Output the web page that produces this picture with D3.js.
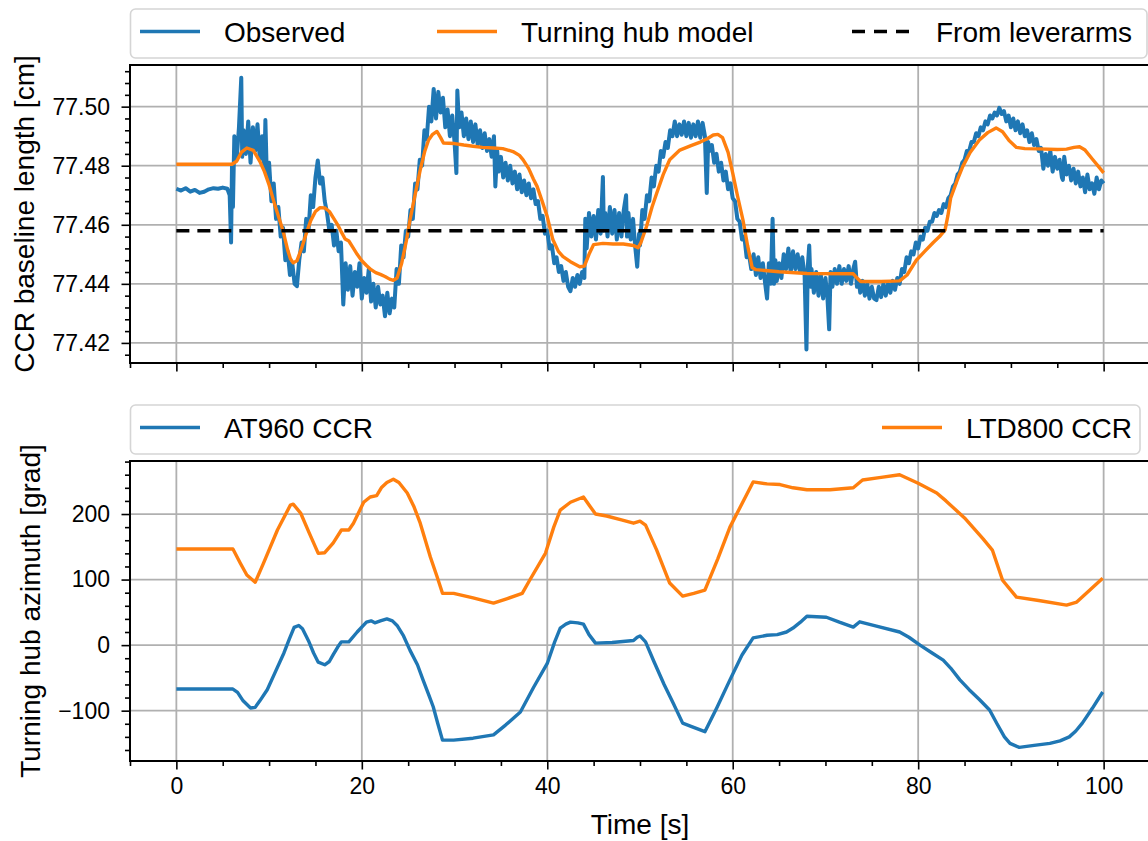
<!DOCTYPE html>
<html>
<head>
<meta charset="utf-8">
<script src="https://cdn.jsdelivr.net/npm/d3@7"></script>
<style>
body { margin: 0; background: #fff; }
svg { display: block; font-family: "Liberation Sans", Arial, Helvetica, sans-serif; }
</style>
</head>
<body>
<svg id="chart" width="1148" height="841"></svg>
<script>
var timeTicks = [0, 20, 40, 60, 80, 100];
var baselineTicks = [77.42, 77.44, 77.46, 77.48, 77.50];
var azimuthTicks = [-100, 0, 100, 200];
var topLabels = ["Observed", "Turning hub model", "From leverarms"];
var bottomLabels = ["AT960 CCR", "LTD800 CCR"];
var leverarmLength = 77.458;

// [time s, baseline cm]
var observed = [
[0,77.4722],[0.5,77.4716],[1,77.4724],[1.5,77.4712],[2,77.4718],[2.5,77.4708],[3,77.4712],[3.5,77.4720],[4,77.4724],[4.5,77.4722],[5,77.4726],[5.5,77.4722],
[5.75,77.4700],[5.9,77.4540],[6,77.4800],[6.1,77.4660],[6.25,77.4900],[6.5,77.4820],[6.75,77.4930],[7,77.5098],[7.1,77.4830],[7.25,77.4920],[7.5,77.4840],[7.75,77.4950],
[8,77.4810],[8.25,77.4930],[8.5,77.4850],[8.75,77.4940],[9,77.4820],[9.25,77.4900],[9.5,77.4790],[9.6,77.4955],[9.75,77.4770],[10,77.4810],[10.25,77.4680],[10.5,77.4740],
[10.75,77.4620],[11,77.4660],[11.25,77.4560],[11.5,77.4590],[11.75,77.4480],[12,77.4510],[12.25,77.4430],[12.5,77.4470],[12.75,77.4400],[13,77.4392],[13.25,77.4480],[13.5,77.4540],
[13.75,77.4510],[14,77.4620],[14.25,77.4580],[14.5,77.4700],[14.75,77.4660],[15,77.4760],[15.25,77.4818],[15.5,77.4740],[15.75,77.4760],[16,77.4680],[16.25,77.4640],[16.5,77.4580],
[16.75,77.4600],[17,77.4530],[17.25,77.4580],[17.5,77.4510],[17.75,77.4540],[18,77.4330],[18.25,77.4470],[18.5,77.4380],[18.75,77.4460],[19,77.4360],[19.25,77.4440],[19.5,77.4390],
[19.75,77.4470],[20,77.4350],[20.25,77.4420],[20.5,77.4370],[20.75,77.4450],[21,77.4340],[21.25,77.4400],[21.5,77.4320],[21.75,77.4390],[22,77.4330],[22.25,77.4360],[22.5,77.4290],
[22.75,77.4370],[23,77.4300],[23.25,77.4350],[23.5,77.4320],[23.75,77.4450],[24,77.4400],[24.25,77.4530],[24.5,77.4490],[24.75,77.4580],[25,77.4560],[25.25,77.4650],[25.5,77.4620],
[25.75,77.4740],[26,77.4720],[26.25,77.4820],[26.5,77.4800],[26.75,77.4920],[27,77.4890],[27.25,77.5000],[27.5,77.4950],[27.75,77.5060],[28,77.4960],[28.25,77.5050],[28.5,77.4980],
[28.75,77.5030],[29,77.4930],[29.25,77.4990],[29.5,77.4900],[29.75,77.4970],[30,77.4880],[30.2,77.4775],[30.3,77.5055],[30.5,77.4930],[30.75,77.4980],[31,77.4900],[31.25,77.4960],
[31.5,77.4890],[31.75,77.4950],[32,77.4880],[32.25,77.4940],[32.5,77.4870],[32.75,77.4920],[33,77.4860],[33.25,77.4910],[33.5,77.4850],[33.75,77.4890],[34,77.4830],[34.25,77.4900],
[34.4,77.4730],[34.6,77.4850],[34.75,77.4780],[35,77.4830],[35.25,77.4760],[35.5,77.4810],[35.75,77.4750],[36,77.4800],[36.25,77.4740],[36.5,77.4780],[36.75,77.4720],[37,77.4770],
[37.25,77.4710],[37.5,77.4750],[37.75,77.4700],[38,77.4740],[38.25,77.4690],[38.5,77.4720],[38.75,77.4670],[39,77.4680],[39.25,77.4620],[39.5,77.4630],[39.75,77.4570],[40,77.4580],
[40.25,77.4520],[40.5,77.4530],[40.75,77.4470],[41,77.4490],[41.25,77.4440],[41.5,77.4460],[41.75,77.4410],[42,77.4440],[42.25,77.4390],[42.5,77.4375],[42.75,77.4420],[43,77.4390],
[43.25,77.4430],[43.5,77.4400],[43.75,77.4440],[44,77.4420],[44.1,77.4620],[44.25,77.4520],[44.5,77.4640],[44.75,77.4560],[45,77.4630],[45.25,77.4550],[45.5,77.4650],[45.75,77.4570],
[46,77.4762],[46.1,77.4580],[46.25,77.4640],[46.5,77.4560],[46.75,77.4660],[47,77.4570],[47.25,77.4650],[47.5,77.4550],[47.75,77.4640],[48,77.4560],[48.25,77.4650],[48.5,77.4700],
[48.6,77.4560],[48.75,77.4640],[49,77.4550],[49.25,77.4620],[49.5,77.4520],[49.7,77.4458],[49.9,77.4570],[50,77.4530],[50.25,77.4650],[50.5,77.4620],[50.75,77.4700],[51,77.4680],
[51.25,77.4760],[51.5,77.4730],[51.75,77.4800],[52,77.4780],[52.25,77.4850],[52.5,77.4830],[52.75,77.4880],[53,77.4860],[53.25,77.4920],[53.5,77.4900],[53.75,77.4950],[54,77.4900],
[54.25,77.4940],[54.5,77.4905],[54.75,77.4950],[55,77.4900],[55.25,77.4945],[55.5,77.4895],[55.75,77.4940],[56,77.4900],[56.25,77.4950],[56.5,77.4895],[56.75,77.4945],[57,77.4900],
[57.2,77.4708],[57.35,77.4880],[57.5,77.4850],[57.75,77.4870],[58,77.4810],[58.25,77.4840],[58.5,77.4780],[58.75,77.4810],[59,77.4750],[59.25,77.4780],[59.5,77.4720],[59.75,77.4740],
[60,77.4690],[60.25,77.4680],[60.5,77.4620],[60.75,77.4610],[61,77.4550],[61.25,77.4560],[61.5,77.4490],[61.75,77.4500],[62,77.4450],[62.25,77.4500],[62.5,77.4430],[62.75,77.4490],
[63,77.4420],[63.25,77.4470],[63.5,77.4400],[63.7,77.4350],[63.9,77.4470],[64.1,77.4400],[64.3,77.4620],[64.45,77.4400],[64.6,77.4480],[64.75,77.4410],[65,77.4470],[65.25,77.4420],
[65.5,77.4500],[65.75,77.4450],[66,77.4520],[66.25,77.4440],[66.5,77.4510],[66.75,77.4450],[67,77.4500],[67.25,77.4440],[67.5,77.4490],[67.75,77.4430],[67.95,77.4178],[68.1,77.4460],
[68.25,77.4530],[68.4,77.4390],[68.5,77.4450],[68.75,77.4370],[69,77.4440],[69.25,77.4360],[69.5,77.4430],[69.75,77.4350],[70,77.4420],[70.2,77.4360],[70.4,77.4246],[70.55,77.4440],
[70.75,77.4390],[71,77.4450],[71.25,77.4400],[71.5,77.4460],[71.75,77.4400],[72,77.4450],[72.25,77.4410],[72.5,77.4460],[72.75,77.4400],[73,77.4450],[73.2,77.4475],[73.4,77.4390],
[73.6,77.4410],[73.75,77.4370],[74,77.4410],[74.25,77.4360],[74.5,77.4400],[74.75,77.4350],[75,77.4390],[75.25,77.4350],[75.5,77.4345],[75.75,77.4390],[76,77.4355],[76.25,77.4400],
[76.5,77.4360],[76.75,77.4400],[77,77.4370],[77.25,77.4410],[77.5,77.4380],[77.75,77.4420],[78,77.4400],[78.25,77.4450],[78.5,77.4440],[78.75,77.4490],[79,77.4470],[79.25,77.4510],
[79.5,77.4500],[79.75,77.4540],[80,77.4520],[80.25,77.4560],[80.5,77.4550],[80.75,77.4590],[81,77.4580],[81.25,77.4610],[81.5,77.4610],[81.75,77.4640],[82,77.4630],[82.25,77.4650],
[82.5,77.4640],[82.75,77.4670],[83,77.4660],[83.25,77.4690],[83.5,77.4700],[83.75,77.4730],[84,77.4740],[84.25,77.4770],[84.5,77.4780],[84.75,77.4810],[85,77.4820],[85.25,77.4850],
[85.5,77.4850],[85.75,77.4880],[86,77.4880],[86.25,77.4910],[86.5,77.4900],[86.75,77.4930],[87,77.4920],[87.25,77.4950],[87.5,77.4940],[87.75,77.4970],[88,77.4960],[88.25,77.4980],
[88.5,77.4970],[88.75,77.4996],[89,77.4975],[89.25,77.4985],[89.5,77.4950],[89.75,77.4970],[90,77.4930],[90.25,77.4960],[90.5,77.4920],[90.75,77.4950],[91,77.4910],[91.25,77.4940],
[91.5,77.4900],[91.75,77.4920],[92,77.4880],[92.25,77.4910],[92.5,77.4870],[92.75,77.4890],[93,77.4850],[93.25,77.4860],[93.5,77.4790],[93.75,77.4840],[94,77.4800],[94.25,77.4850],
[94.5,77.4780],[94.75,77.4830],[95,77.4790],[95.25,77.4820],[95.5,77.4760],[95.6,77.4752],[95.75,77.4830],[96,77.4770],[96.25,77.4800],[96.5,77.4750],[96.75,77.4790],[97,77.4740],
[97.25,77.4780],[97.5,77.4730],[97.75,77.4760],[98,77.4710],[98.25,77.4770],[98.5,77.4720],[98.75,77.4740],[99,77.4705],[99.25,77.4760],[99.5,77.4720],[99.75,77.4750],[100,77.4740]
];

var hubModel = [
[0,77.4805],[6,77.4805],[6.5,77.4815],[7,77.4845],[7.6,77.4860],[8.3,77.4852],[9,77.4815],[9.5,77.4780],[10,77.4735],[10.5,77.4680],[11,77.4630],[11.5,77.4580],
[12,77.4515],[12.3,77.4485],[12.6,77.4471],[13,77.4478],[13.5,77.4520],[14,77.4570],[14.5,77.4615],[15,77.4645],[15.5,77.4658],[16,77.4657],[16.5,77.4645],[17,77.4620],
[17.4,77.4600],[17.8,77.4575],[18.2,77.4552],[18.6,77.4545],[19,77.4525],[19.5,77.4500],[20,77.4478],[20.5,77.4462],[21,77.4448],[21.5,77.4438],[22,77.4432],[22.5,77.4425],
[23,77.4416],[23.4,77.4412],[23.8,77.4420],[24.3,77.4470],[24.8,77.4545],[25.2,77.4617],[25.8,77.4710],[26.3,77.4786],[26.8,77.4850],[27.2,77.4887],[27.6,77.4905],[28.1,77.4916],
[28.5,77.4895],[28.8,77.4877],[30,77.4875],[31,77.4870],[32,77.4866],[33,77.4862],[34.2,77.4860],[35.2,77.4858],[36.3,77.4848],[37,77.4835],[37.4,77.4820],[38,77.4790],
[38.5,77.4755],[38.9,77.4730],[39.5,77.4675],[40,77.4627],[40.6,77.4550],[41.2,77.4510],[41.7,77.4492],[42.5,77.4475],[43.5,77.4458],[44,77.4460],[44.5,77.4500],[45,77.4533],
[46,77.4537],[47.1,77.4535],[48.2,77.4535],[49.3,77.4530],[49.8,77.4522],[50.1,77.4540],[50.7,77.4594],[51.3,77.4660],[51.8,77.4707],[52.5,77.4770],[53.2,77.4820],[54.3,77.4853],
[55.5,77.4868],[56.5,77.4880],[57.3,77.4892],[57.9,77.4904],[58.4,77.4906],[58.9,77.4895],[59.5,77.4845],[60,77.4775],[60.5,77.4700],[61.1,77.4617],[61.6,77.4530],[62.1,77.4455],
[62.5,77.4448],[65,77.4441],[68,77.4435],[73,77.4434],[73.4,77.4420],[73.8,77.4408],[76,77.4408],[78,77.4410],[78.8,77.4430],[79.8,77.4480],[80.7,77.4510],[81.6,77.4539],
[82.3,77.4560],[82.9,77.4583],[83.2,77.4630],[83.5,77.4690],[84.2,77.4750],[84.8,77.4797],[85.6,77.4845],[86.6,77.4887],[87.5,77.4912],[88.4,77.4928],[89.1,77.4915],[89.8,77.4885],
[90.6,77.4862],[91.5,77.4858],[93,77.4857],[95,77.4855],[96,77.4856],[96.8,77.4862],[97.4,77.4864],[98,77.4853],[98.8,77.4822],[99.5,77.4795],[100,77.4776]
];

// [time s, azimuth grad]
var at960 = [
[0,-67],[6.1,-67],[6.6,-72],[7.2,-85],[8,-96],[8.5,-95],[9,-85],[9.8,-68],[10.7,-40],[11.6,-12],[12.2,10],[12.7,27],[13.2,30],[13.6,25],[14.3,5],[14.8,-12],
[15.3,-26],[16,-30],[16.5,-25],[16.9,-15],[17.4,-3],[17.8,5],[18.6,5],[19.5,20],[20.5,35],[21,37],[21.4,34],[22,37],[22.7,40],[23.3,37],[23.8,30],[24.5,14],
[25.2,-8],[26,-30],[26.6,-53],[27.2,-75],[27.7,-94],[28.2,-120],[28.7,-145],[29.9,-145],[32,-142],[34.2,-137],[35.5,-122],[37.1,-102],[38.5,-65],[40,-28],[40.8,5],[41.4,26],
[42,32],[42.5,35],[43.3,34],[43.9,32],[44.5,16],[45.2,3],[47,4],[49.3,7],[49.7,12],[50,14],[50.6,5],[51.5,-25],[52.6,-60],[53.6,-89],[54.6,-119],[55.5,-124],
[57,-132],[58.3,-95],[59.7,-53],[61,-15],[62.2,11],[63.7,15],[64.8,16],[65.8,20],[66.5,26],[67.3,35],[68,44],[70.1,42.5],[71.5,35],[73,27.5],[73.7,35.6],[75.5,29],
[78,20],[79,12],[80.2,0],[81.5,-12],[82.7,-23],[83.5,-35],[84.5,-53],[85.5,-68],[86.6,-83],[87.7,-99],[88.5,-120],[89.3,-140],[89.9,-150],[90.9,-156],[92.5,-153],[94.2,-150],
[95.3,-146],[96.3,-140],[97,-131],[97.7,-119],[98.8,-96],[99.9,-71.5]
];

var ltd800 = [
[0,146.6],[6.1,146.6],[6.9,125],[7.6,107],[8.5,96],[9.4,125],[10.9,175.6],[12.3,213.7],[12.6,215],[13.4,201.5],[14.3,172],[15.3,140],[16,141],[16.9,155.7],[17.8,175.6],[18.6,175.6],
[19.1,186],[20.2,218],[20.9,226],[21.6,228],[22.1,240],[22.7,248],[23.4,253],[24,248],[24.9,232],[25.6,212],[26.3,186],[27.4,134],[28.1,105],[28.7,79],[29.9,79],[32,72],
[34.2,64],[35.7,71],[37.3,79],[38.1,99],[39.8,140],[40.7,180],[41.4,206],[42.5,218],[43.9,226],[44.6,212],[45.2,200],[46.4,197],[48,191],[49.3,186],[50,189],[50.6,183],
[51.8,145],[53.2,94.7],[54.6,74.8],[55.8,79],[57,84],[58.4,132],[59.7,180],[62.2,249],[63.7,246],[65.1,245],[66.5,240],[68,237],[70.5,237],[73,240],[74,252],[76,256],
[78,260],[80,247],[82,232],[83,220],[85,194],[87,162],[88,145],[89.1,99],[90.6,73.3],[93,68],[96,61],[97.1,65.6],[99.9,102]
];

var blue = "#1f77b4", orange = "#ff7f0e";
var svg = d3.select("#chart");

var x = d3.scaleLinear().domain([-5, 105]).range([130, 1150]);
var yTop = d3.scaleLinear().domain([77.4132, 77.5141]).range([363, 65]);
var yBot = d3.scaleLinear().domain([-176.8, 280.9]).range([761, 461]);

var xMinor = d3.range(-5, 106, 5).filter(function(d) { return d % 20 != 0; });
var topMinor = d3.range(77.416, 77.5135, 0.004).filter(function(d) {
	return Math.abs(Math.round(d * 50) - d * 50) > 0.01;
});
var botMinor = d3.range(-160, 281, 20).filter(function(d) { return d % 100 != 0; });

function panel(y, yTicks, yMinor, fmt, showX, clipId) {
	var top = y.range()[1], bottom = y.range()[0];
	var left = x.range()[0], right = x.range()[1];

	svg.append("clipPath").attr("id", clipId)
		.append("rect").attr("x", left).attr("y", top)
		.attr("width", right - left).attr("height", bottom - top);

	var grid = svg.append("g").attr("stroke", "#b0b0b0").attr("stroke-width", 1.8);
	timeTicks.forEach(function(d) {
		grid.append("line").attr("x1", x(d)).attr("x2", x(d)).attr("y1", top).attr("y2", bottom);
	});
	yTicks.forEach(function(d) {
		grid.append("line").attr("x1", left).attr("x2", right).attr("y1", y(d)).attr("y2", y(d));
	});

	var g = svg.append("g").attr("clip-path", "url(#" + clipId + ")");

	svg.append("g").attr("transform", "translate(" + left + ",0)")
		.call(d3.axisLeft(y).tickValues(yTicks).tickFormat(fmt).tickSizeInner(8.5).tickSizeOuter(0).tickPadding(11.5));
	svg.append("g").attr("transform", "translate(" + left + ",0)")
		.call(d3.axisLeft(y).tickValues(yMinor).tickFormat("").tickSizeInner(5).tickSizeOuter(0));
	svg.append("g").attr("transform", "translate(0," + bottom + ")")
		.call(d3.axisBottom(x).tickValues(timeTicks).tickFormat(showX ? d3.format("d") : "").tickSizeInner(8.5).tickSizeOuter(0).tickPadding(8));
	svg.append("g").attr("transform", "translate(0," + bottom + ")")
		.call(d3.axisBottom(x).tickValues(xMinor).tickFormat("").tickSizeInner(5).tickSizeOuter(0));

	svg.selectAll(".domain").remove();
	svg.selectAll(".tick line").attr("stroke", "#000").attr("stroke-width", 1.6);
	svg.selectAll(".tick text").attr("fill", "#000").style("font-size", "23px")
		.style("font-family", "'Liberation Sans', Arial, sans-serif");

	svg.append("rect").attr("x", left).attr("y", top)
		.attr("width", right - left).attr("height", bottom - top)
		.attr("fill", "none").attr("stroke", "#000").attr("stroke-width", 2);

	return g;
}

function legend(y0, x1, labels, starts, styles) {
	svg.append("rect").attr("x", 130.5).attr("y", y0).attr("width", x1 - 130.5).attr("height", 49)
		.attr("rx", 5).attr("fill", "#fff").attr("stroke", "#d5d5d5").attr("stroke-width", 1.6);
	labels.forEach(function(lab, i) {
		var cy = y0 + 22.5;
		svg.append("line").attr("x1", starts[i]).attr("x2", starts[i] + 60)
			.attr("y1", cy).attr("y2", cy)
			.attr("stroke", styles[i].color).attr("stroke-width", 3.4)
			.attr("stroke-dasharray", styles[i].dash || null);
		svg.append("text").attr("x", starts[i] + 84).attr("y", cy + 10.5)
			.style("font-size", "28px").attr("fill", "#000").text(lab);
	});
}

var line = function(y) {
	return d3.line().x(function(d) { return x(d[0]); }).y(function(d) { return y(d[1]); });
};

// top panel
var gTop = panel(yTop, baselineTicks, topMinor, d3.format(".2f"), false, "clipTop");
gTop.append("path").datum(observed).attr("d", line(yTop))
	.attr("fill", "none").attr("stroke", blue).attr("stroke-width", 4).attr("stroke-linejoin", "round");
gTop.append("path").datum(hubModel).attr("d", line(yTop))
	.attr("fill", "none").attr("stroke", orange).attr("stroke-width", 3.4).attr("stroke-linejoin", "round");
gTop.append("path").datum([[0, leverarmLength], [100, leverarmLength]]).attr("d", line(yTop))
	.attr("fill", "none").attr("stroke", "#000").attr("stroke-width", 3.6).attr("stroke-dasharray", "13,8");

legend(9, 1147, topLabels, [140, 437, 852],
	[{color: blue}, {color: orange}, {color: "#000", dash: "13,9"}]);

// bottom panel
var gBot = panel(yBot, azimuthTicks, botMinor, d3.format("d"), true, "clipBot");
gBot.append("path").datum(at960).attr("d", line(yBot))
	.attr("fill", "none").attr("stroke", blue).attr("stroke-width", 3.4).attr("stroke-linejoin", "round");
gBot.append("path").datum(ltd800).attr("d", line(yBot))
	.attr("fill", "none").attr("stroke", orange).attr("stroke-width", 3.4).attr("stroke-linejoin", "round");

legend(405, 1140, bottomLabels, [140, 882], [{color: blue}, {color: orange}]);

// axis labels
svg.append("text").attr("transform", "translate(34," + (yTop.range()[0] + yTop.range()[1]) / 2 + ") rotate(-90)")
	.attr("text-anchor", "middle").style("font-size", "28px").text("CCR baseline length [cm]");
svg.append("text").attr("transform", "translate(40," + (yBot.range()[0] + yBot.range()[1]) / 2 + ") rotate(-90)")
	.attr("text-anchor", "middle").style("font-size", "28px").text("Turning hub azimuth [grad]");
svg.append("text").attr("x", (x.range()[0] + x.range()[1]) / 2).attr("y", 834)
	.attr("text-anchor", "middle").style("font-size", "28px").text("Time [s]");
</script>
</body>
</html>
